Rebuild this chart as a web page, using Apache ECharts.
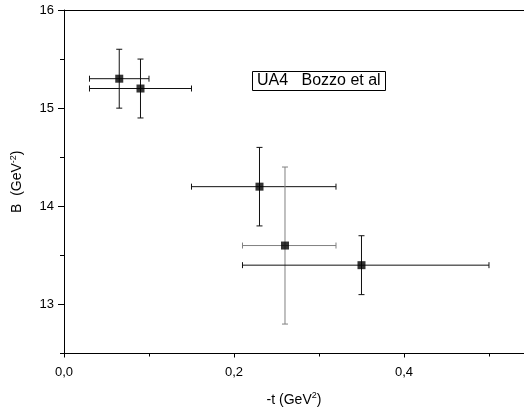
<!DOCTYPE html>
<html>
<head>
<meta charset="utf-8">
<script src="https://cdn.jsdelivr.net/npm/echarts@6/dist/echarts.min.js"></script>
<style>html,body{margin:0;padding:0;background:#fff}#c{width:524px;height:412px}</style>
</head>
<body>
<div id="c"></div>
<script>
// ---- data ----
const tVals  = [0.065, 0.09, 0.23, 0.26, 0.35];
const tLow   = [0.03, 0.03, 0.15, 0.21, 0.21];
const tHigh  = [0.10, 0.15, 0.32, 0.32, 0.50];
const bVals  = [15.3, 15.2, 14.2, 13.6, 13.4];
const bLow   = [15.0, 14.9, 13.8, 12.8, 13.1];
const bHigh  = [15.6, 15.5, 14.6, 14.4, 13.7];
const yMajorTicks = [13, 14, 15, 16];
const yMinorTicks = [12.5, 13.5, 14.5, 15.5];
const legendLabel = 'UA4   Bozzo et al';

// ---- style ----
const barColors = ['#111', '#111', '#111', '#808080', '#111'];
const FONT = 'Liberation Sans, Arial, sans-serif';

const chart = echarts.init(document.getElementById('c'), null, {renderer: 'canvas'});

const errData = tVals.map((t, i) => [t, bVals[i], tLow[i], tHigh[i], bLow[i], bHigh[i]]);
const pts = tVals.map((t, i) => [t, bVals[i]]);

function renderErr(params, api) {
  const x = api.value(0), y = api.value(1);
  const c = api.coord([x, y]);
  const xl = api.coord([api.value(2), y]);
  const xh = api.coord([api.value(3), y]);
  const yl = api.coord([x, api.value(4)]);
  const yh = api.coord([x, api.value(5)]);
  const col = barColors[params.dataIndex];
  const st = {stroke: col, lineWidth: 1, fill: null};
  const hc = 3, vc = 3;
  return {
    type: 'group',
    children: [
      {type: 'line', shape: {x1: xl[0], y1: c[1], x2: xh[0], y2: c[1]}, style: st},
      {type: 'line', shape: {x1: xl[0], y1: c[1] - hc, x2: xl[0], y2: c[1] + hc}, style: st},
      {type: 'line', shape: {x1: xh[0], y1: c[1] - hc, x2: xh[0], y2: c[1] + hc}, style: st},
      {type: 'line', shape: {x1: c[0], y1: yl[1], x2: c[0], y2: yh[1]}, style: st},
      {type: 'line', shape: {x1: c[0] - vc, y1: yl[1], x2: c[0] + vc, y2: yl[1]}, style: st},
      {type: 'line', shape: {x1: c[0] - vc, y1: yh[1], x2: c[0] + vc, y2: yh[1]}, style: st}
    ]
  };
}

const axisLine = {show: true, lineStyle: {color: '#000', width: 1}};
const sup = {fontSize: 9, verticalAlign: 'top', padding: [0, 0, 8, 0], fontFamily: FONT, color: '#000'};

chart.setOption({
  animation: false,
  backgroundColor: '#fff',
  textStyle: {fontFamily: FONT},
  grid: {left: 64, top: 10, right: 0, bottom: 58, containLabel: false},
  title: {
    text: legendLabel,
    left: 252, top: 71,
    borderColor: '#000', borderWidth: 1,
    padding: [2, 5, 2, 5],
    textStyle: {fontSize: 16, fontWeight: 'normal', color: '#000', fontFamily: FONT, lineHeight: 16}
  },
  xAxis: [{
    type: 'value', min: 0, max: 0.5412, interval: 0.2,
    position: 'bottom',
    axisLine: axisLine,
    axisTick: {show: true, length: 4, inside: false, lineStyle: {color: '#000'}},
    minorTick: {show: true, splitNumber: 2, length: 3, lineStyle: {color: '#000'}},
    splitLine: {show: false},
    axisLabel: {showMaxLabel: false, fontSize: 13, color: '#000', margin: 12, fontFamily: FONT,
      formatter: v => v.toFixed(1).replace('.', ',')},
    name: '-t (GeV{s|2})', nameLocation: 'middle', nameGap: 38,
    nameTextStyle: {fontSize: 14, color: '#000', fontFamily: FONT, rich: {s: sup}}
  }, {
    type: 'value', min: 0, max: 0.5412, position: 'top',
    axisLine: axisLine, axisTick: {show: false}, axisLabel: {show: false}, splitLine: {show: false}
  }],
  yAxis: [{
    type: 'value', min: 12.5, max: 16,
    position: 'left',
    axisLine: axisLine,
    axisTick: {show: true, length: 6, customValues: yMajorTicks, lineStyle: {color: '#000'}},
    splitLine: {show: false},
    axisLabel: {customValues: yMajorTicks, fontSize: 13, color: '#000', margin: 10, fontFamily: FONT},
    name: 'B  (GeV{s|-2})', nameLocation: 'middle', nameGap: 38, nameRotate: 90,
    nameTextStyle: {fontSize: 14, color: '#000', fontFamily: FONT, rich: {s: sup}}
  }, {
    type: 'value', min: 12.5, max: 16, position: 'left',
    axisLine: {show: false},
    axisTick: {show: true, length: 4, customValues: yMinorTicks, lineStyle: {color: '#000'}},
    axisLabel: {show: false}, splitLine: {show: false}
  }],
  series: [{
    type: 'custom',
    renderItem: renderErr,
    data: errData,
    encode: {x: 0, y: 1},
    z: 2
  }, {
    type: 'scatter',
    data: pts,
    symbol: 'rect',
    symbolSize: 8,
    itemStyle: {color: '#000'},
    z: 3
  }]
});
</script>
</body>
</html>
